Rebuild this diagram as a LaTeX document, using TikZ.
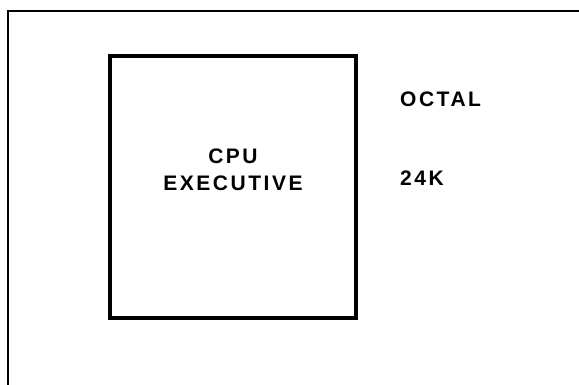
\documentclass[tikz,border=0pt]{standalone}
\usepackage{fontspec}
\setmainfont{Liberation Sans}[LetterSpace=12]
\usetikzlibrary{positioning}

\begin{document}
\begin{tikzpicture}[
  x=1pt, y=1pt,
  unitbox/.style={rectangle, draw=black, line width=4pt, minimum width=246pt, minimum height=262pt, inner sep=0pt},
  tag/.style={font=\bfseries\fontsize{21}{27.5}\selectfont, align=center, inner sep=0pt},
  frameline/.style={draw=black, line width=1.4pt},
]
  \useasboundingbox (0,0) rectangle (579,385);

  % outer frame, only top and left edges show
  \coordinate (fbl) at (8,0);
  \coordinate (ftl) at (8,374);
  \coordinate (ftr) at (579,374);
  \draw[frameline] (fbl) -- (ftl) -- (ftr);

  \node[unitbox] (cpu) at (233,198) {};
  \node[tag] (cpulbl) at (233,215) {CPU\\EXECUTIVE};

  \node[tag, anchor=west] (octal) at (400,285.5) {OCTAL};
  \node[tag, anchor=west] (size) at (400,206.5) {24K};
\end{tikzpicture}
\end{document}
